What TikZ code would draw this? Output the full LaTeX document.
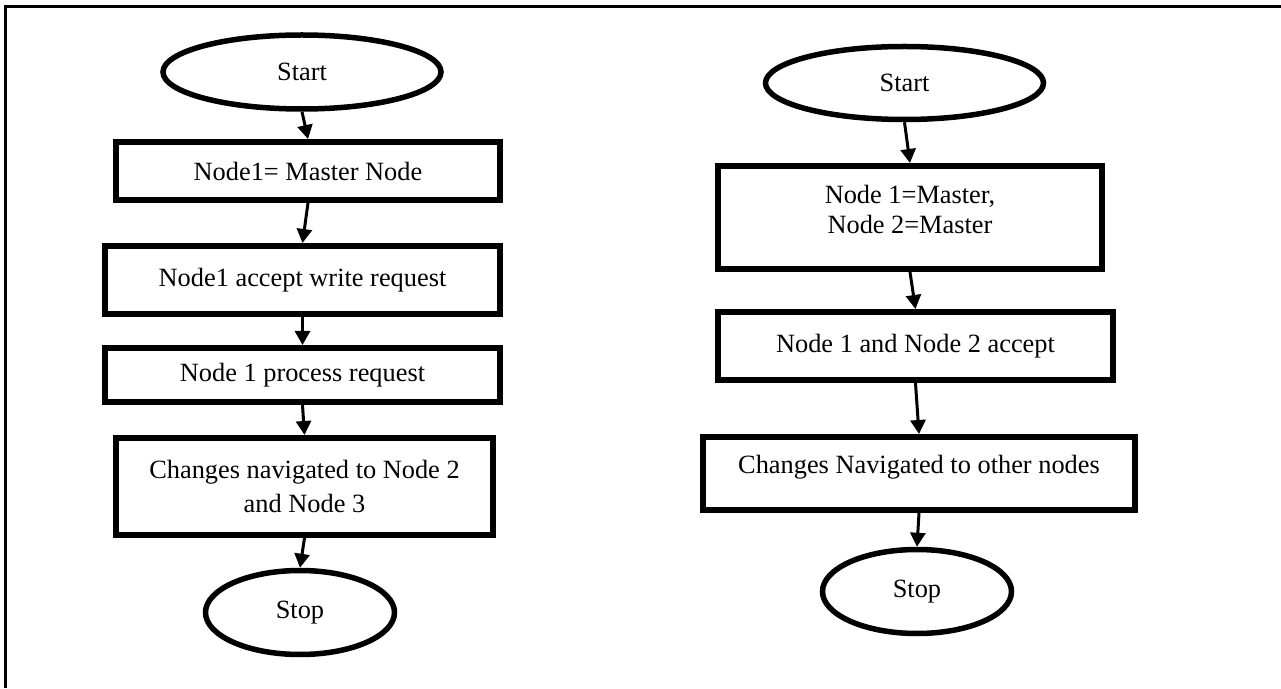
\documentclass[tikz,border=0pt]{standalone}
\usepackage{fontspec}
\setmainfont{Liberation Serif}
\usetikzlibrary{shapes.geometric,arrows.meta}

\begin{document}
\begin{tikzpicture}[
    terminal/.style={ellipse, draw, line width=0.11cm, inner sep=0pt},
    stepbox/.style={rectangle, draw, line width=0.12cm, inner sep=0pt, align=center},
    flow/.style={line width=0.06cm, -{Triangle[length=0.28cm,width=0.30cm]}},
    frame/.style={line width=0.06cm}]
                    \useasboundingbox (0,0) rectangle (25.620000,13.760000);
                    {\fontsize{15}{17.3}\selectfont

                    % Drawing frame
                    \draw [frame] (0.100000,0.000000) -- (0.100000,13.620000) -- (25.620000,13.620000);%

                    % Left flow: master-slave
                    \node [terminal, minimum width=5.56cm, minimum height=1.48cm] (startL) at (6.040000,12.320000) {Start};%
                    \node [stepbox, minimum width=7.68cm, minimum height=1.16cm] (boxL1) at (6.160000,10.340000) {Node1= Master Node};%
                    \node [stepbox, minimum width=7.90cm, minimum height=1.36cm] (boxL2) at (6.050000,8.160000) {Node1 accept write request};%
                    \node [stepbox, minimum width=7.90cm, minimum height=1.08cm] (boxL3) at (6.050000,6.260000) {Node 1 process request};%
                    \node [stepbox, minimum width=7.54cm, minimum height=1.94cm] (boxL4) at (6.090000,4.030000) {Changes navigated to Node 2\\[0.07cm]and Node 3};%
                    \node [terminal, minimum width=3.78cm, minimum height=1.68cm] (stopL) at (6.000000,1.510000) {Stop};%

                    % Right flow: master-master
                    \node [terminal, minimum width=5.56cm, minimum height=1.46cm] (startR) at (18.090000,12.100000) {Start};%
                    \node [stepbox, minimum width=7.68cm, minimum height=2.06cm, text depth=0.33cm] (boxR1) at (18.200000,9.410000) {Node 1=Master,\\Node 2=Master};%
                    \node [stepbox, minimum width=7.90cm, minimum height=1.36cm] (boxR2) at (18.310000,6.840000) {Node 1 and Node 2 accept};%
                    \node [stepbox, minimum width=8.64cm, minimum height=1.46cm, text depth=0.35cm] (boxR3) at (18.380000,4.290000) {Changes Navigated to other nodes};%
                    \node [terminal, minimum width=3.78cm, minimum height=1.68cm] (stopR) at (18.340000,1.930000) {Stop};%

                    % Drawing arrows
                    \draw [flow] (startL.south) -- (boxL1.north);%
                    \draw [flow] (boxL1.south) -- (boxL2.north);%
                    \draw [flow] (boxL2.south) -- (boxL3.north);%
                    \draw [flow] (boxL3.south) -- (boxL4.north);%
                    \draw [flow] (boxL4.south) -- (stopL.north);%
                    \draw [flow] (startR.south) -- (boxR1.north);%
                    \draw [flow] (boxR1.south) -- (boxR2.north);%
                    \draw [flow] (boxR2.south) -- (boxR3.north);%
                    \draw [flow] (boxR3.south) -- (stopR.north);%
                    }
\end{tikzpicture}
\end{document}
